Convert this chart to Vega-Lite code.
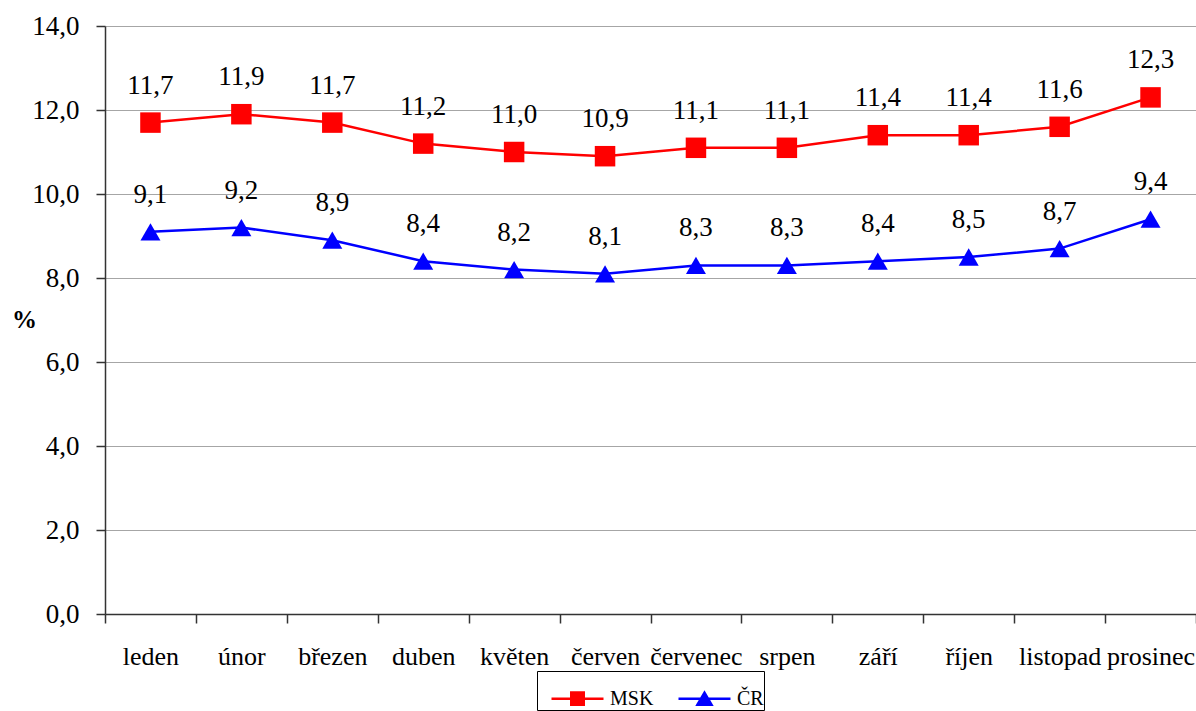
{
  "$schema": "https://vega.github.io/schema/vega-lite/v6.json",
  "width": 1091,
  "height": 588,
  "autosize": "none",
  "padding": {"left": 105, "top": 26, "right": 0, "bottom": 97},
  "config": {
    "locale": {"number": {"decimal": ",", "thousands": " ", "grouping": [3], "currency": ["", " Kč"]}},
    "font": "Liberation Serif",
    "axis": {"labelFont": "Liberation Serif", "titleFont": "Liberation Serif"},
    "legend": {"labelFont": "Liberation Serif", "titleFont": "Liberation Serif"},
    "view": {"stroke": null},
    "background": "white"
  },
  "data": {
    "values": [
      {"month": "leden", "series": "MSK", "value": 11.7},
      {"month": "únor", "series": "MSK", "value": 11.9},
      {"month": "březen", "series": "MSK", "value": 11.7},
      {"month": "duben", "series": "MSK", "value": 11.2},
      {"month": "květen", "series": "MSK", "value": 11.0},
      {"month": "červen", "series": "MSK", "value": 10.9},
      {"month": "červenec", "series": "MSK", "value": 11.1},
      {"month": "srpen", "series": "MSK", "value": 11.1},
      {"month": "září", "series": "MSK", "value": 11.4},
      {"month": "říjen", "series": "MSK", "value": 11.4},
      {"month": "listopad", "series": "MSK", "value": 11.6},
      {"month": "prosinec", "series": "MSK", "value": 12.3},
      {"month": "leden", "series": "ČR", "value": 9.1},
      {"month": "únor", "series": "ČR", "value": 9.2},
      {"month": "březen", "series": "ČR", "value": 8.9},
      {"month": "duben", "series": "ČR", "value": 8.4},
      {"month": "květen", "series": "ČR", "value": 8.2},
      {"month": "červen", "series": "ČR", "value": 8.1},
      {"month": "červenec", "series": "ČR", "value": 8.3},
      {"month": "srpen", "series": "ČR", "value": 8.3},
      {"month": "září", "series": "ČR", "value": 8.4},
      {"month": "říjen", "series": "ČR", "value": 8.5},
      {"month": "listopad", "series": "ČR", "value": 8.7},
      {"month": "prosinec", "series": "ČR", "value": 9.4}
    ]
  },
  "encoding": {
    "x": {
      "field": "month",
      "type": "nominal",
      "sort": ["leden", "únor", "březen", "duben", "květen", "červen", "červenec", "srpen", "září", "říjen", "listopad", "prosinec"],
      "scale": {"paddingInner": 0, "paddingOuter": 0},
      "axis": {
        "title": null,
        "labelAngle": 0,
        "labelFont": "Liberation Serif",
        "labelFontSize": 26,
        "labelColor": "black",
        "labelPadding": 20,
        "tickBand": "extent",
        "tickSize": 9,
        "tickColor": "#333333",
        "tickWidth": 1.5,
        "domainColor": "#333333",
        "domainWidth": 1.5,
        "grid": false,
        "labelOverlap": false
      }
    },
    "y": {
      "field": "value",
      "type": "quantitative",
      "scale": {"domain": [0, 14]},
      "axis": {
        "values": [0, 2, 4, 6, 8, 10, 12, 14],
        "format": ".1f",
        "labelFont": "Liberation Serif",
        "labelFontSize": 27,
        "labelColor": "black",
        "labelPadding": 17,
        "tickSize": 9,
        "tickColor": "#333333",
        "tickWidth": 1.5,
        "domainColor": "#333333",
        "domainWidth": 1.5,
        "grid": true,
        "gridColor": "#a6a6a6",
        "gridWidth": 1,
        "title": "%",
        "titleFont": "Liberation Serif",
        "titleAngle": 0,
        "titleFontSize": 25,
        "titleFontWeight": "bold",
        "titleColor": "black",
        "titleX": -81,
        "titleY": 293,
        "titleAlign": "center",
        "titleBaseline": "middle"
      }
    }
  },
  "layer": [
    {
      "mark": {"type": "line", "strokeWidth": 2.5},
      "encoding": {
        "color": {
          "field": "series",
          "type": "nominal",
          "scale": {"domain": ["MSK", "ČR"], "range": ["#ff0000", "#0000ff"]},
          "legend": {
            "orient": "none",
            "legendX": 432,
            "legendY": 645,
            "direction": "horizontal",
            "title": "\u00a0",
            "titleOrient": "left",
            "titleFontSize": 20,
            "titlePadding": 13,
            "padding": 0,
            "strokeColor": "black",
            "fillColor": "white",
            "symbolType": "M-1,0H1M-0.24,-0.24H0.24V0.24H-0.24Z",
            "symbolSize": 2704,
            "symbolStrokeWidth": 2.5,
            "symbolOpacity": 1,
            "labelFont": "Liberation Serif",
            "labelFontSize": 20,
            "labelColor": "black",
            "labelOffset": 5,
            "columnPadding": 19,
            "labelExpr": "datum.label == 'ČR' ? datum.label + '\u00a0\u00a0\u00a0' : datum.label",
            "encoding": {
              "symbols": {
                "shape": {"condition": {"test": "datum.value == 'ČR'", "value": "M-1,0H1M-0.27,0.23L0,-0.23L0.27,0.23Z"}, "value": "M-1,0H1M-0.24,-0.24H0.24V0.24H-0.24Z"},
                "fill": {"condition": {"test": "datum.value == 'ČR'", "value": "#0000ff"}, "value": "#ff0000"}
              }
            }
          }
        }
      }
    },
    {
      "transform": [{"filter": "datum.series == 'MSK'"}],
      "mark": {"type": "point", "shape": "square", "filled": true, "opacity": 1, "color": "#ff0000", "size": 420}
    },
    {
      "transform": [{"filter": "datum.series == 'ČR'"}],
      "mark": {"type": "point", "shape": "triangle-up", "filled": true, "opacity": 1, "color": "#0000ff", "size": 400}
    },
    {
      "mark": {"type": "text", "baseline": "alphabetic", "align": "center", "dy": -29, "fontSize": 27, "color": "black", "font": "Liberation Serif"},
      "encoding": {"text": {"field": "value", "type": "quantitative", "format": ".1f"}}
    }
  ]
}
